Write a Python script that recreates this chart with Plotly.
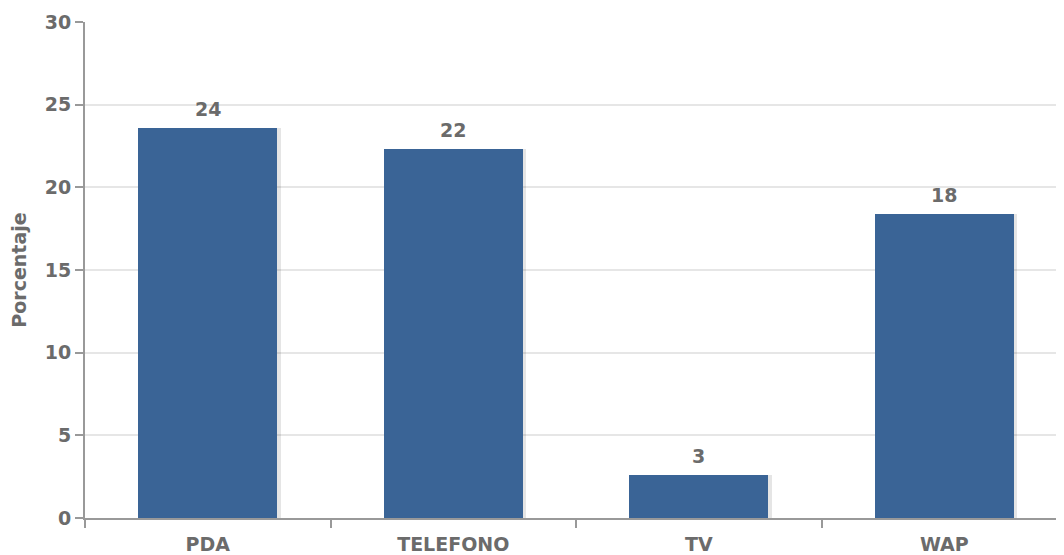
import plotly.graph_objects as go

categories = ["PDA", "TELEFONO", "TV", "WAP"]
values = [23.6, 22.3, 2.6, 18.4]
y_ticks = [0, 5, 10, 15, 20, 25, 30]

BAR_COLOR = "#3a6496"
TEXT_COLOR = "#6b6b6b"
FONT = "DejaVu Sans"
FS = 19
BAR_W = 0.566

fig = go.Figure()
# subtle drop shadow
fig.add_trace(go.Bar(
    x=categories, y=values, width=BAR_W, offset=-BAR_W / 2 + 0.014,
    marker=dict(color="rgba(0,0,0,0.10)", line=dict(width=0)),
    hoverinfo="skip", showlegend=False,
))
fig.add_trace(go.Bar(
    x=categories, y=values, width=BAR_W, offset=-BAR_W / 2,
    marker=dict(color=BAR_COLOR, line=dict(width=0)),
    showlegend=False,
))

for c, v in zip(categories, values):
    fig.add_annotation(
        x=c, y=v, text=f"<b>{round(v)}</b>", showarrow=False,
        yanchor="bottom", yshift=6,
        font=dict(family=FONT, size=FS, color=TEXT_COLOR),
    )

fig.update_layout(
    width=1064, height=555,
    margin=dict(l=77, r=0, t=14, b=45),
    paper_bgcolor="white", plot_bgcolor="white",
    barmode="overlay", bargap=0,
    font=dict(family=FONT, size=FS, color=TEXT_COLOR),
)
fig.update_xaxes(
    range=[-0.5, 3.52], automargin=False,
    showline=True, linecolor="#999999", linewidth=2,
    ticks="outside", tickson="boundaries", ticklen=8, tickwidth=2, tickcolor="#999999",
    ticklabelstandoff=8,
    showgrid=False, zeroline=False,
    tickfont=dict(family=FONT, size=FS, color=TEXT_COLOR),
    ticktext=[f"<b>{c}</b>" for c in categories], tickvals=categories,
)
fig.update_yaxes(
    range=[0, 30], tickvals=y_ticks, ticktext=[f"<b>{t}</b>" for t in y_ticks],
    automargin=False,
    showline=True, linecolor="#999999", linewidth=2,
    ticks="outside", ticklen=8, tickwidth=2, tickcolor="#999999",
    showgrid=True, gridcolor="#e6e6e6", gridwidth=1.5, zeroline=False,
    tickfont=dict(family=FONT, size=FS, color=TEXT_COLOR),
    title=dict(text="<b>Porcentaje</b>", standoff=14,
               font=dict(family=FONT, size=FS, color=TEXT_COLOR)),
)

fig.write_html("out.html")
